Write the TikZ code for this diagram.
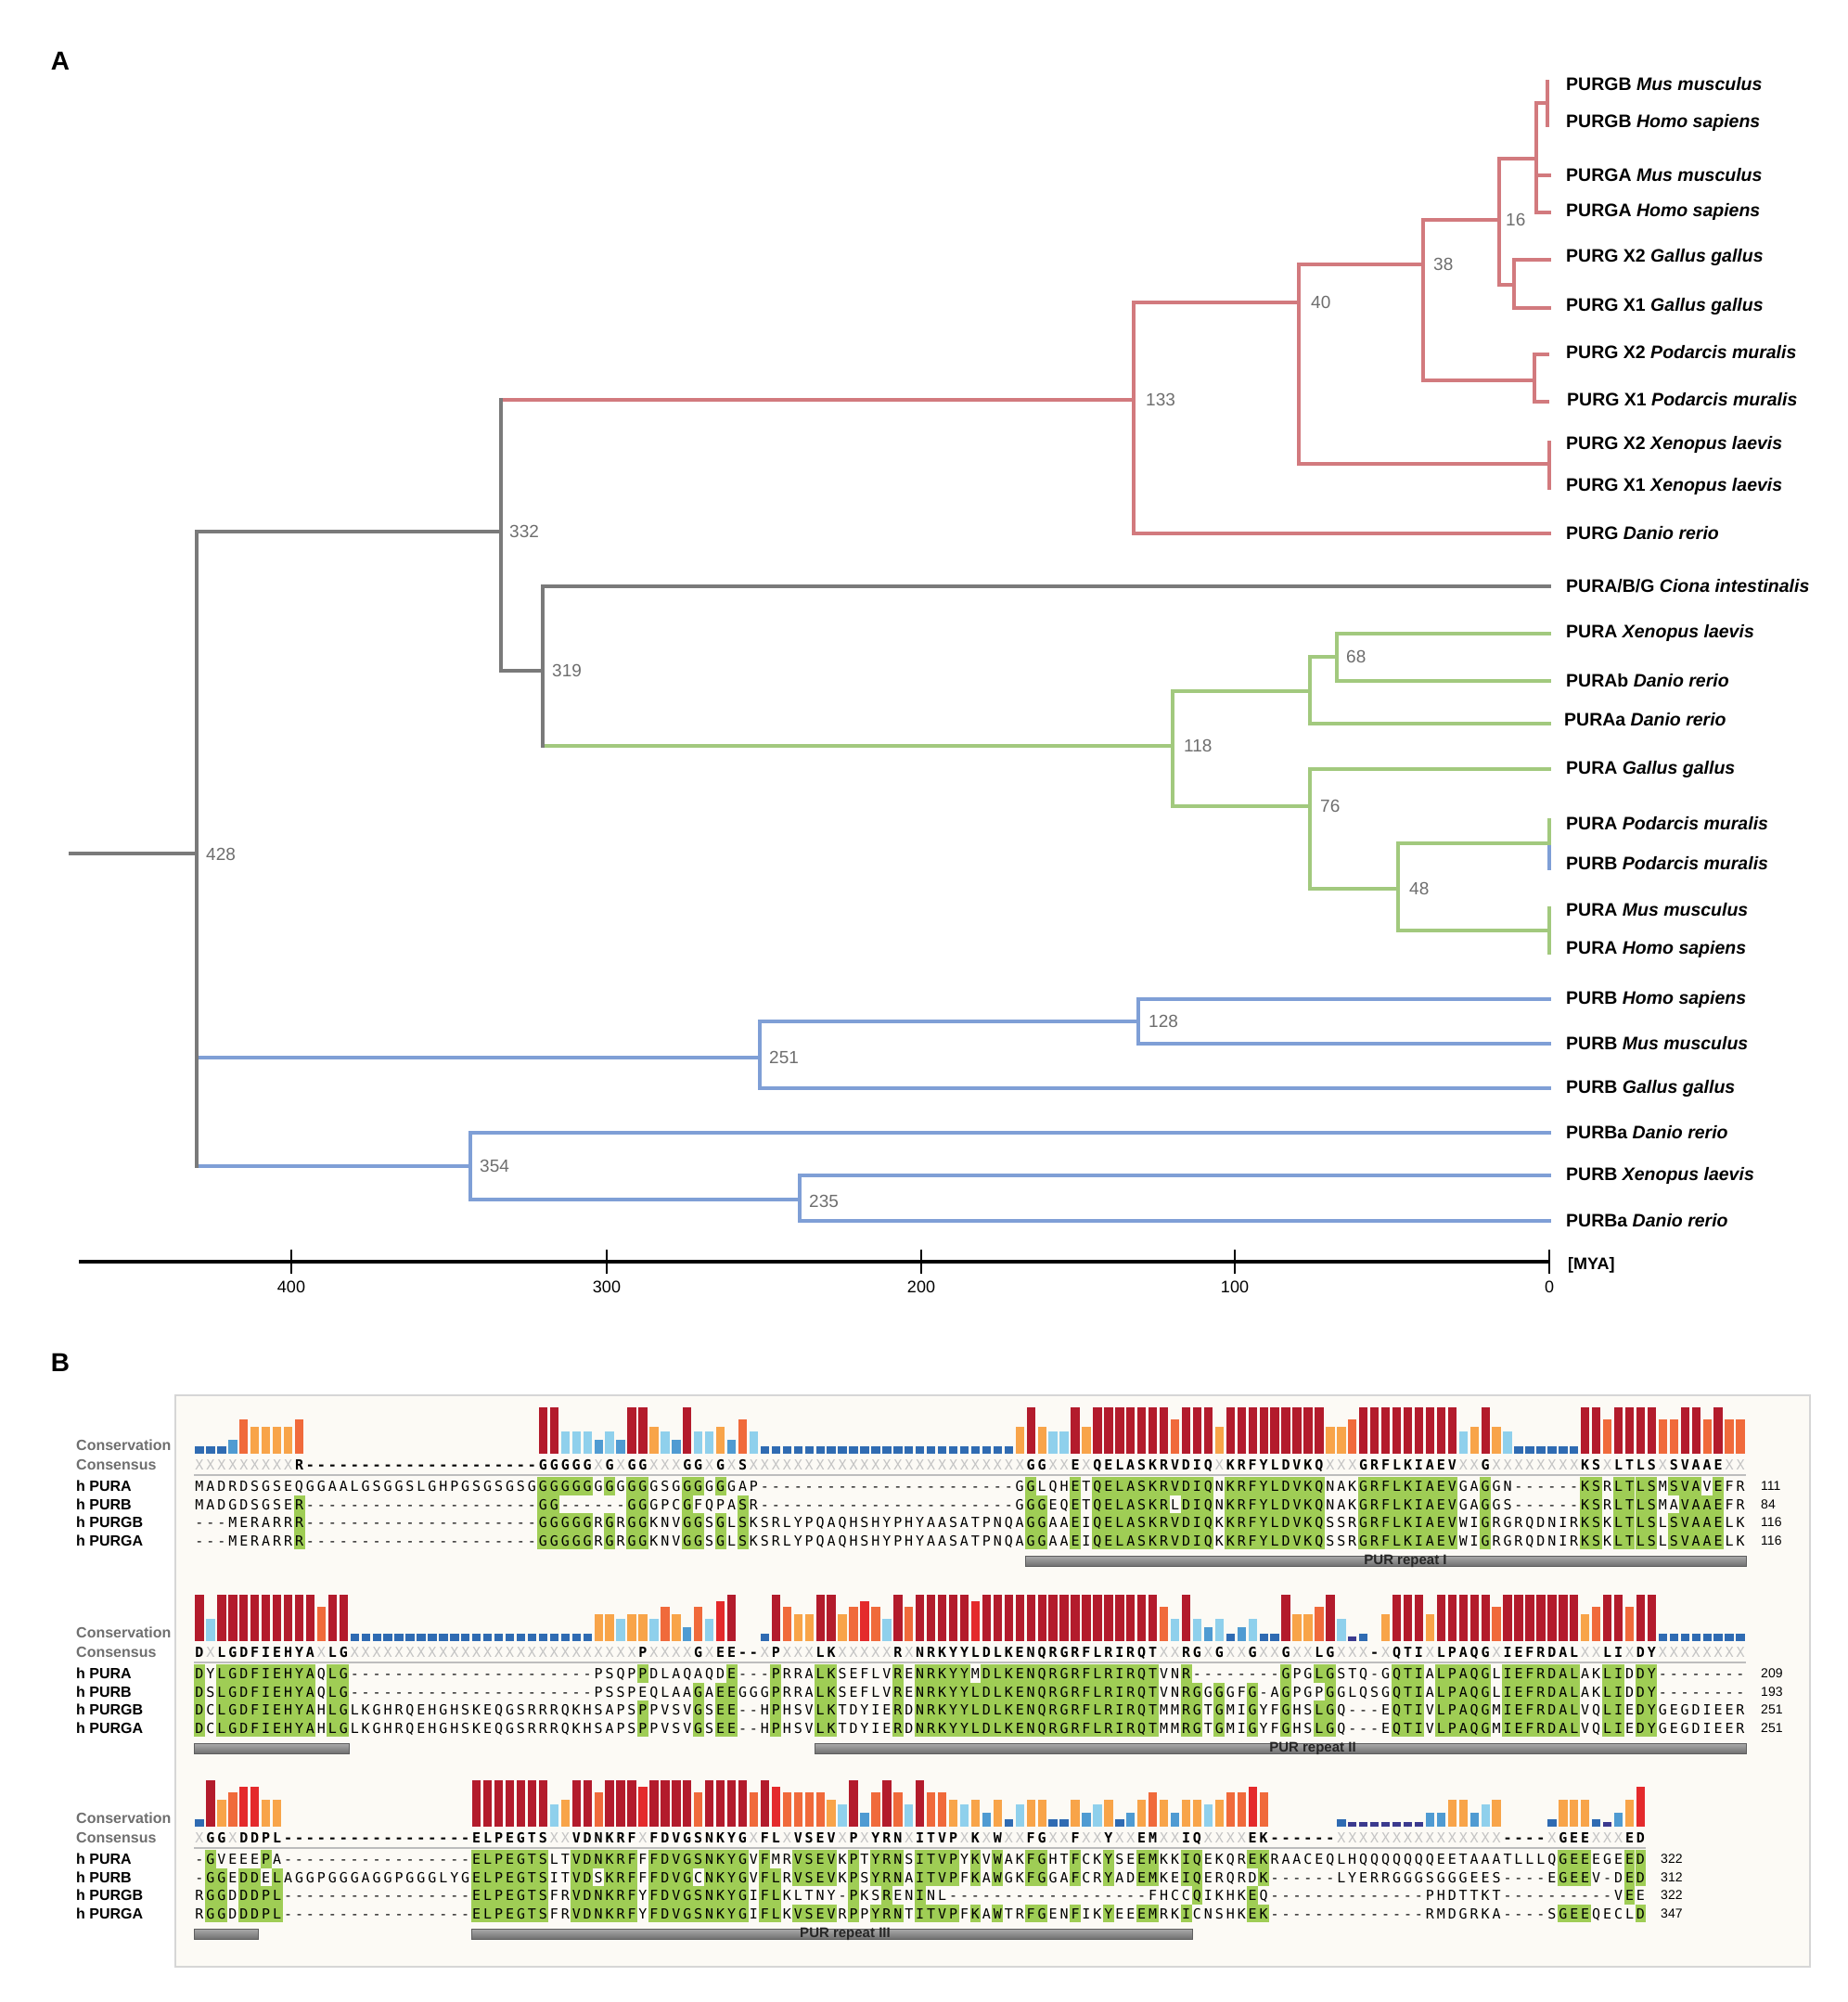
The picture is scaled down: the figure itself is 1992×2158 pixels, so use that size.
\documentclass[tikz,border=0pt]{standalone}
\usepackage{fontspec}
\setmainfont{Liberation Sans}
\setsansfont{Liberation Sans}
\newfontfamily\seqfam{DejaVu Sans Mono}
\usetikzlibrary{calc}

\definecolor{cPink}{HTML}{D27A7E}
\definecolor{cGreen}{HTML}{A2C97E}
\definecolor{cBlue}{HTML}{7F9FD6}
\definecolor{cGray}{HTML}{7A7A7A}
\definecolor{numgray}{HTML}{6E6E6E}
\definecolor{seqgreen}{HTML}{9FCD55}
\definecolor{consx}{HTML}{C4C4C4}
\definecolor{panelbg}{HTML}{FCFAF5}
\definecolor{panelborder}{HTML}{D6D6D6}
\definecolor{labgray}{HTML}{6F6F6F}
\definecolor{sepgray}{HTML}{BDBDBD}
\definecolor{barA}{HTML}{B31B2C}
\definecolor{barB}{HTML}{E42A2C}
\definecolor{barC}{HTML}{F06A3B}
\definecolor{barD}{HTML}{F8A449}
\definecolor{barE}{HTML}{8FD0EC}
\definecolor{barF}{HTML}{4F9BD2}
\definecolor{barG}{HTML}{2F6BB2}
\definecolor{barH}{HTML}{3B3A8E}
\definecolor{repTop}{HTML}{ABABAB}
\definecolor{repBot}{HTML}{707070}
\definecolor{repEdge}{HTML}{5E5E5E}

\ExplSyntaxOn
\int_new:N \l_pur_col_int
\str_new:N \l_pur_cons_str
\str_new:N \l_pur_seq_str
\str_new:N \l_pur_ch_str
\str_new:N \l_pur_cc_str
\tl_new:N \l_pur_x_tl
\dim_new:N \l_pur_cell_dim
\dim_set:Nn \l_pur_cell_dim {11.95pt}
\cs_new:Npn \Rdash #1 { \prg_replicate:nn {#1} {-} }
\cs_new:Npn \Rx #1 { \prg_replicate:nn {#1} {X} }
\cs_new:Npn \Rdot #1 { \prg_replicate:nn {#1} {.} }
\cs_new_protected:Npn \pur_cell:n #1 { \makebox[\l_pur_cell_dim][c]{#1} }
\cs_new_protected:Npn \pur_gcell:n #1
  {
    \rlap{\color{seqgreen}\rule[-4.25pt]{\l_pur_cell_dim}{19.5pt}}
    \makebox[\l_pur_cell_dim][c]{#1}
  }
\cs_new_protected:Npn \PurSeq #1#2
  {
    \str_set:Nx \l_pur_cons_str {#1}
    \str_set:Nx \l_pur_seq_str {#2}
    \int_zero:N \l_pur_col_int
    \str_map_inline:Nn \l_pur_seq_str
      {
        \int_incr:N \l_pur_col_int
        \str_set:Nn \l_pur_ch_str {##1}
        \str_set:Nx \l_pur_cc_str { \str_item:Nn \l_pur_cons_str { \l_pur_col_int } }
        \str_if_eq:VVTF \l_pur_ch_str \l_pur_cc_str
          {
            \str_if_eq:VnTF \l_pur_ch_str {-}
              { \pur_cell:n {##1} }
              { \pur_gcell:n {##1} }
          }
          { \pur_cell:n {##1} }
      }
  }
\cs_new_protected:Npn \PurCons #1
  {
    \str_set:Nx \l_pur_cons_str {#1}
    \str_map_inline:Nn \l_pur_cons_str
      {
        \str_if_eq:nnTF {##1} {X}
          { \pur_cell:n { \mdseries \color{consx} X } }
          { \pur_cell:n {##1} }
      }
  }
\cs_new_protected:Npn \pur_bar:nnn #1#2#3
  {
    \tl_set:Nx \l_pur_x_tl { \fp_eval:n { 209 + \l_pur_col_int * 11.95 + 1.3 } }
    \fill[#1]~(\l_pur_x_tl,#3)~rectangle~++(9.35,-#2);
  }
\cs_new_protected:Npn \PurBars #1#2
  {
    \str_set:Nx \l_pur_seq_str {#2}
    \int_zero:N \l_pur_col_int
    \str_map_inline:Nn \l_pur_seq_str
      {
        \str_case:nnF {##1}
          {
            {a} { \pur_bar:nnn {barA} {50} {#1} }
            {b} { \pur_bar:nnn {barB} {43} {#1} }
            {c} { \pur_bar:nnn {barC} {37} {#1} }
            {d} { \pur_bar:nnn {barD} {29} {#1} }
            {e} { \pur_bar:nnn {barE} {24} {#1} }
            {f} { \pur_bar:nnn {barF} {15} {#1} }
            {g} { \pur_bar:nnn {barG} {8} {#1} }
            {h} { \pur_bar:nnn {barH} {5} {#1} }
          }
          { }
        \int_incr:N \l_pur_col_int
      }
  }
\ExplSyntaxOff

% ---------- block 1 ----------
\newcommand\cnsI{XXXXXXXXXR\Rdash{21}GGGGGXGXGGXXXGGXGXS\Rx{25}GGXXEXQELASKRVDIQXKRFYLDVKQXXXGRFLKIAEVXXGXXXXXXXXKSXLTLSXSVAAEXX}
\newcommand\sqIa{MADRDSGSEQGGAALGSGGSLGHPGSGSGSGGGGGGGGGGGGSGGGGGGAP\Rdash{23}GGLQHETQELASKRVDIQNKRFYLDVKQNAKGRFLKIAEVGAGGN------KSRLTLSMSVAVEFR}
\newcommand\sqIb{MADGDSGSER\Rdash{21}GG------GGGPCGFQPASR\Rdash{23}GGGEQETQELASKRLDIQNKRFYLDVKQNAKGRFLKIAEVGAGGS------KSRLTLSMAVAAEFR}
\newcommand\sqIc{---MERARRR\Rdash{21}GGGGGRGRGGKNVGGSGLSKSRLYPQAQHSHYPHYAASATPNQAGGAAEIQELASKRVDIQKKRFYLDVKQSSRGRFLKIAEVWIGRGRQDNIRKSKLTLSLSVAAELK}
\newcommand\brI{gggfcddddc\Rdot{21}aaeeefefaadefaeedfceggggggggggggggggggggggg%
dadeeadaaaaaaacaaadaaaaaaaaaddcaaaaaaaaaedadeggggggaacaaaaccaacacc}
% ---------- block 2 ----------
\newcommand\cnsII{DXLGDFIEHYAXLG\Rx{26}PXXXXGXEE--XPXXXLKXXXXXRXNRKYYLDLKENQRGRFLRIRQTXXRGXGXXGXXGXXLGXXX-XQTIXLPAQGXIEFRDALXXLIXDYXXXXXXXX}
\newcommand\sqIIa{DYLGDFIEHYAQLG\Rdash{22}PSQPPDLAQAQDE---PRRALKSEFLVRENRKYYMDLKENQRGRFLRIRQTVNR--------GPGLGSTQ-GQTIALPAQGLIEFRDALAKLIDDY--------}
\newcommand\sqIIb{DSLGDFIEHYAQLG\Rdash{22}PSSPEQLAAGAEEGGGPRRALKSEFLVRENRKYYLDLKENQRGRFLRIRQTVNRGGGGFG-AGPGPGGLQSGQTIALPAQGLIEFRDALAKLIDDY--------}
\newcommand\sqIIc{DCLGDFIEHYAHLGLKGHRQEHGHSKEQGSRRRQKHSAPSPPVSVGSEE--HPHSVLKTDYIERDNRKYYLDLKENQRGRFLRIRQTMMRGTGMIGYFGHSLGQ---EQTIVLPAQGMIEFRDALVQLIEDYGEGDIEER}
\newcommand\brII{aeaaaaaaaaacaaggggggggggggggggggggggddeddecdfceba..gacddaadcbceacaaaaabaaaaaaaaaaaaaaaaceaefegfeggaddcaehg.daaadaaaaacaaaaaaadcaacaagggggggg}
% ---------- block 3 ----------
\newcommand\cnsIII{XGGXDDPL\Rdash{17}ELPEGTSXXVDNKRFXFDVGSNKYGXFLXVSEVXPXYRNXITVPXKXWXXFGXXFXXYXXEMXXIQXXXXEK------\Rx{15}----XGEEXXXED}
\newcommand\sqIIIa{-GVEEEPA\Rdash{17}ELPEGTSLTVDNKRFFFDVGSNKYGVFMRVSEVKPTYRNSITVPYKVWAKFGHTFCKYSEEMKKIQEKQREKRAACEQLHQQQQQQQEETAAATLLLQGEEEGEED}
\newcommand\sqIIIb{-GGEDDELAGGPGGGAGGPGGGLYGELPEGTSITVDSKRFFFDVGCNKYGVFLRVSEVKPSYRNAITVPFKAWGKFGGAFCRYADEMKEIQERQRDK------LYERRGGGSGGGEES----EGEEV-DED}
\newcommand\sqIIIc{RGGDDDPL\Rdash{17}ELPEGTSFRVDNKRFYFDVGSNKYGIFLKLTNY-PKSRENINL\Rdash{18}FHCCQIKHKEQ\Rdash{14}PHDTTKT\Rdash{10}VEE}
\newcommand\sqIIId{RGGDDDPL\Rdash{17}ELPEGTSFRVDNKRFYFDVGSNKYGIFLKVSEVRPPYRNTITVPFKAWTRFGENFIKYEEEMRKICNSHKEK\Rdash{14}RMDGRKA----SGEEQECLD}
\newcommand\brIII{gadcbbdd\Rdot{17}aaaaaaaedaacaaabaaaacaaaacabccccdeafcaceaccdedfdgeddggdfedgfdcdfddedccbc......ghhhhhhhffddfed....gdddghfdb}

\begin{document}
\begin{tikzpicture}[x=1pt,y=-1pt,
  gline/.style={draw=cGray,line width=3.4pt,line cap=rect},
  pline/.style={draw=cPink,line width=3.4pt,line cap=rect},
  grline/.style={draw=cGreen,line width=3.4pt,line cap=rect},
  bline/.style={draw=cBlue,line width=3.4pt,line cap=rect},
  leaflab/.style={anchor=west,inner sep=0pt,font=\fontsize{19.5}{22}\selectfont\bfseries},
  numlab/.style={anchor=west,inner sep=0pt,text=numgray,font=\fontsize{19}{22}\selectfont},
  ticklab/.style={inner sep=0pt,font=\fontsize{18}{20}\selectfont},
  panellab/.style={inner sep=0pt,font=\fontsize{28}{30}\selectfont\bfseries},
  rowlab/.style={anchor=west,inner sep=0pt,font=\fontsize{16}{18}\selectfont\bfseries},
  graylab/.style={rowlab,text=labgray},
  seqrow/.style={anchor=base west,inner sep=0pt,outer sep=0pt,font=\seqfam\fontsize{15}{17}\selectfont\color{black}},
  consrow/.style={anchor=base west,inner sep=0pt,outer sep=0pt,font=\seqfam\fontsize{15}{17}\selectfont\bfseries},
  endnum/.style={anchor=west,inner sep=0pt,font=\fontsize{14}{16}\selectfont},
  replab/.style={inner sep=0pt,text=black!85,font=\fontsize{15}{17}\selectfont\bfseries},
  repbar/.style={top color=repTop,bottom color=repBot,draw=repEdge,line width=0.8pt}
]
\useasboundingbox (0,0) rectangle (1992,2158);
\fill[white] (0,0) rectangle (1992,2158);

% ================= PANEL A : tree =================
\node[panellab] (labA) at (65,66) {A};

\coordinate (root0) at (76,920);
\coordinate (n428) at (212,920);
\coordinate (n332) at (540,573);
\coordinate (n133) at (1222,431);
\coordinate (n40) at (1400,326);
\coordinate (n38) at (1534,285);
\coordinate (n16) at (1616,237);
\coordinate (nGA) at (1656,171);
\coordinate (pGB) at (1668,111);
\coordinate (lf1) at (1668,88);
\coordinate (lf2) at (1668,135);
\coordinate (lf3) at (1670,189);
\coordinate (lf4) at (1670,229);
\coordinate (nGal) at (1632,307);
\coordinate (lf5) at (1670,280);
\coordinate (lf6) at (1670,332);
\coordinate (pPod) at (1654,410);
\coordinate (lf7) at (1668,382);
\coordinate (lf8) at (1668,433);
\coordinate (pXen) at (1670,500);
\coordinate (lf9) at (1670,477);
\coordinate (lf10) at (1670,526);
\coordinate (lf11) at (1670,575);
\coordinate (n319) at (585,723);
\coordinate (lf12) at (1670,632);
\coordinate (n118) at (1264,804);
\coordinate (nU) at (1412,745);
\coordinate (n68) at (1441,708);
\coordinate (lf13) at (1670,683);
\coordinate (lf14) at (1670,734);
\coordinate (lf15) at (1670,780);
\coordinate (n76) at (1412,869);
\coordinate (lf16) at (1670,829);
\coordinate (n48) at (1507,958);
\coordinate (pPodA) at (1670,909);
\coordinate (lf17) at (1670,884);
\coordinate (lf18) at (1670,936);
\coordinate (pHM) at (1670,1003);
\coordinate (lf19) at (1670,979);
\coordinate (lf20) at (1670,1027);
\coordinate (n251) at (819,1140);
\coordinate (n128) at (1227,1101);
\coordinate (lf21) at (1670,1077);
\coordinate (lf22) at (1670,1125);
\coordinate (lf23) at (1670,1173);
\coordinate (n354) at (507,1257);
\coordinate (lf24) at (1670,1221);
\coordinate (n235) at (862,1293);
\coordinate (lf25) at (1670,1267);
\coordinate (lf26) at (1670,1316);

% blue PURB clade
\draw[bline] (n428 |- n251) -- (n251);
\draw[bline] (n428 |- n354) -- (n354);
\draw[bline] (n251 |- n128) -- (n251 |- lf23);
\draw[bline] (n251 |- n128) -- (n128);
\draw[bline] (n251 |- lf23) -- (lf23);
\draw[bline] (n128 |- lf21) -- (n128 |- lf22);
\draw[bline] (n128 |- lf21) -- (lf21);
\draw[bline] (n128 |- lf22) -- (lf22);
\draw[bline] (n354 |- lf24) -- (n354 |- n235);
\draw[bline] (n354 |- lf24) -- (lf24);
\draw[bline] (n354 |- n235) -- (n235);
\draw[bline] (n235 |- lf25) -- (n235 |- lf26);
\draw[bline] (n235 |- lf25) -- (lf25);
\draw[bline] (n235 |- lf26) -- (lf26);

% gray backbone
\draw[gline] (root0) -- (n428);
\draw[gline] (n428 |- n332) -- (n428 |- n354);
\draw[gline] (n428 |- n332) -- (n332);
\draw[pline] (n332 |- n133) -- (n133);
\draw[gline] (n332 |- n133) -- (n332 |- n319);
\draw[gline] (n332 |- n319) -- (n319);
\draw[grline] (n319 |- n118) -- (n118);
\draw[gline] (n319 |- lf12) -- (n319 |- n118);
\draw[gline] (n319 |- lf12) -- (lf12);

% pink PURG clade
\draw[pline] (n133 |- n40) -- (n133 |- lf11);
\draw[pline] (n133 |- n40) -- (n40);
\draw[pline] (n133 |- lf11) -- (lf11);
\draw[pline] (n40 |- n38) -- (n40 |- pXen);
\draw[pline] (n40 |- n38) -- (n38);
\draw[pline] (n40 |- pXen) -- (pXen);
\draw[pline] (lf9) -- (lf10);
\draw[pline] (n38 |- n16) -- (n38 |- pPod);
\draw[pline] (n38 |- n16) -- (n16);
\draw[pline] (n38 |- pPod) -- (pPod);
\draw[pline] (pPod |- lf7) -- (pPod |- lf8);
\draw[pline] (pPod |- lf7) -- (lf7);
\draw[pline] (pPod |- lf8) -- (lf8);
\draw[pline] (n16 |- nGA) -- (n16 |- nGal);
\draw[pline] (n16 |- nGA) -- (nGA);
\draw[pline] (n16 |- nGal) -- (nGal);
\draw[pline] (nGal |- lf5) -- (nGal |- lf6);
\draw[pline] (nGal |- lf5) -- (lf5);
\draw[pline] (nGal |- lf6) -- (lf6);
\draw[pline] (nGA |- pGB) -- (nGA |- lf4);
\draw[pline] (nGA |- pGB) -- (pGB);
\draw[pline] (nGA |- lf3) -- (lf3);
\draw[pline] (nGA |- lf4) -- (lf4);
\draw[pline] (lf1) -- (lf2);

% green PURA clade
\draw[grline] (n118 |- nU) -- (n118 |- n76);
\draw[grline] (n118 |- nU) -- (nU);
\draw[grline] (n118 |- n76) -- (n76);
\draw[grline] (nU |- n68) -- (nU |- lf15);
\draw[grline] (nU |- n68) -- (n68);
\draw[grline] (nU |- lf15) -- (lf15);
\draw[grline] (n68 |- lf13) -- (n68 |- lf14);
\draw[grline] (n68 |- lf13) -- (lf13);
\draw[grline] (n68 |- lf14) -- (lf14);
\draw[grline] (n76 |- lf16) -- (n76 |- n48);
\draw[grline] (n76 |- lf16) -- (lf16);
\draw[grline] (n76 |- n48) -- (n48);
\draw[grline] (n48 |- pPodA) -- (n48 |- pHM);
\draw[grline] (n48 |- pPodA) -- (pPodA);
\draw[grline] (n48 |- pHM) -- (pHM);
\draw[bline] (pPodA) -- (lf18);
\draw[grline] (lf17) -- (pPodA);
\draw[grline] (lf19) -- (lf20);

% node ages
\node[numlab] (k428) at (222,921) {428};
\node[numlab] (k332) at (549,573) {332};
\node[numlab] (k319) at (595,723) {319};
\node[numlab] (k133) at (1235,431) {133};
\node[numlab] (k40) at (1413,326) {40};
\node[numlab] (k38) at (1545,285) {38};
\node[numlab] (k16) at (1623,237) {16};
\node[numlab] (k118) at (1276,804) {118};
\node[numlab] (k68) at (1451,708) {68};
\node[numlab] (k76) at (1423,869) {76};
\node[numlab] (k48) at (1519,958) {48};
\node[numlab] (k251) at (829,1140) {251};
\node[numlab] (k128) at (1238,1101) {128};
\node[numlab] (k354) at (517,1257) {354};
\node[numlab] (k235) at (872,1295) {235};

% leaf labels
\node[leaflab] (t1) at (1688,91) {PURGB \textit{Mus musculus}};
\node[leaflab] (t2) at (1688,132) {PURGB \textit{Homo sapiens}};
\node[leaflab] (t3) at (1688,189) {PURGA \textit{Mus musculus}};
\node[leaflab] (t4) at (1688,228) {PURGA \textit{Homo sapiens}};
\node[leaflab] (t5) at (1688,277) {PURG X2 \textit{Gallus gallus}};
\node[leaflab] (t6) at (1688,330) {PURG X1 \textit{Gallus gallus}};
\node[leaflab] (t7) at (1688,380) {PURG X2 \textit{Podarcis muralis}};
\node[leaflab] (t8) at (1689,431) {PURG X1 \textit{Podarcis muralis}};
\node[leaflab] (t9) at (1688,479) {PURG X2 \textit{Xenopus laevis}};
\node[leaflab] (t10) at (1688,524) {PURG X1 \textit{Xenopus laevis}};
\node[leaflab] (t11) at (1688,575) {PURG \textit{Danio rerio}};
\node[leaflab] (t12) at (1688,632) {PURA/B/G \textit{Ciona intestinalis}};
\node[leaflab] (t13) at (1688,682) {PURA \textit{Xenopus laevis}};
\node[leaflab] (t14) at (1688,734) {PURAb \textit{Danio rerio}};
\node[leaflab] (t15) at (1686,776) {PURAa \textit{Danio rerio}};
\node[leaflab] (t16) at (1688,829) {PURA \textit{Gallus gallus}};
\node[leaflab] (t17) at (1688,888) {PURA \textit{Podarcis muralis}};
\node[leaflab] (t18) at (1688,931) {PURB \textit{Podarcis muralis}};
\node[leaflab] (t19) at (1688,981) {PURA \textit{Mus musculus}};
\node[leaflab] (t20) at (1688,1023) {PURA \textit{Homo sapiens}};
\node[leaflab] (t21) at (1688,1077) {PURB \textit{Homo sapiens}};
\node[leaflab] (t22) at (1688,1125) {PURB \textit{Mus musculus}};
\node[leaflab] (t23) at (1688,1173) {PURB \textit{Gallus gallus}};
\node[leaflab] (t24) at (1688,1221) {PURBa \textit{Danio rerio}};
\node[leaflab] (t25) at (1688,1267) {PURB \textit{Xenopus laevis}};
\node[leaflab] (t26) at (1688,1316) {PURBa \textit{Danio rerio}};

% time axis
\coordinate (axL) at (85,1360);
\coordinate (axR) at (1670,1360);
\draw[line width=3.4pt] (axL) -- (axR);
\foreach \xx/\lab in {314/400,654/300,993/200,1331/100,1670/0} {
  \coordinate (tk\lab) at (\xx,1360);
  \draw[line width=2.6pt] (\xx,1347) -- (\xx,1373);
  \node[ticklab] (tl\lab) at (\xx,1387) {\lab};
}
\node[ticklab,anchor=west,font=\fontsize{18}{20}\selectfont\bfseries] (mya) at (1690,1364) {[MYA]};

% ================= PANEL B : alignment =================
\node[panellab] (labB) at (65,1469) {B};
\draw[fill=panelbg,draw=panelborder,line width=1.5pt] (189,1504) rectangle (1951,2120);

% ---- block 1 (y0 = 1602)
\PurBars{1567}{\brI}
\node[graylab] (c1) at (82,1558) {Conservation};
\node[graylab] (k1) at (82,1579) {Consensus};
\node[consrow] (cs1) at (209,1584.5) {\PurCons{\cnsI}};
\draw[sepgray,line width=2.4pt] (209,1590) -- (1882,1590);
\node[rowlab] (h1a) at (82,1602) {h PURA};
\node[rowlab] (h1b) at (82,1621.5) {h PURB};
\node[rowlab] (h1c) at (82,1641) {h PURGB};
\node[rowlab] (h1d) at (82,1660.5) {h PURGA};
\node[seqrow] (s1a) at (209,1607.5) {\PurSeq{\cnsI}{\sqIa}};
\node[seqrow] (s1b) at (209,1627) {\PurSeq{\cnsI}{\sqIb}};
\node[seqrow] (s1c) at (209,1646.5) {\PurSeq{\cnsI}{\sqIc}};
\node[seqrow] (s1d) at (209,1666) {\PurSeq{\cnsI}{\sqIc}};
\node[endnum] (e1a) at (1898,1602) {111};
\node[endnum] (e1b) at (1898,1621.5) {84};
\node[endnum] (e1c) at (1898,1641) {116};
\node[endnum] (e1d) at (1898,1660.5) {116};
\shade[repbar] (1105,1677) rectangle (1882,1688);
\node[replab] (r1) at (1515,1682.5) {PUR repeat I};

% ---- block 2 (y0 = 1804)
\PurBars{1769}{\brII}
\node[graylab] (c2) at (82,1760) {Conservation};
\node[graylab] (k2) at (82,1781) {Consensus};
\node[consrow] (cs2) at (209,1786.5) {\PurCons{\cnsII}};
\draw[sepgray,line width=2.4pt] (209,1792) -- (1882,1792);
\node[rowlab] (h2a) at (82,1804) {h PURA};
\node[rowlab] (h2b) at (82,1823.5) {h PURB};
\node[rowlab] (h2c) at (82,1843) {h PURGB};
\node[rowlab] (h2d) at (82,1862.5) {h PURGA};
\node[seqrow] (s2a) at (209,1809.5) {\PurSeq{\cnsII}{\sqIIa}};
\node[seqrow] (s2b) at (209,1829) {\PurSeq{\cnsII}{\sqIIb}};
\node[seqrow] (s2c) at (209,1848.5) {\PurSeq{\cnsII}{\sqIIc}};
\node[seqrow] (s2d) at (209,1868) {\PurSeq{\cnsII}{\sqIIc}};
\node[endnum] (e2a) at (1898,1804) {209};
\node[endnum] (e2b) at (1898,1823.5) {193};
\node[endnum] (e2c) at (1898,1843) {251};
\node[endnum] (e2d) at (1898,1862.5) {251};
\shade[repbar] (209,1879) rectangle (376,1890);
\shade[repbar] (878,1879) rectangle (1882,1890);
\node[replab] (r2) at (1415,1884.5) {PUR repeat II};

% ---- block 3 (y0 = 2004)
\PurBars{1969}{\brIII}
\node[graylab] (c3) at (82,1960) {Conservation};
\node[graylab] (k3) at (82,1981) {Consensus};
\node[consrow] (cs3) at (209,1986.5) {\PurCons{\cnsIII}};
\draw[sepgray,line width=2.4pt] (209,1992) -- (1774,1992);
\node[rowlab] (h3a) at (82,2004) {h PURA};
\node[rowlab] (h3b) at (82,2023.5) {h PURB};
\node[rowlab] (h3c) at (82,2043) {h PURGB};
\node[rowlab] (h3d) at (82,2062.5) {h PURGA};
\node[seqrow] (s3a) at (209,2009.5) {\PurSeq{\cnsIII}{\sqIIIa}};
\node[seqrow] (s3b) at (209,2029) {\PurSeq{\cnsIII}{\sqIIIb}};
\node[seqrow] (s3c) at (209,2048.5) {\PurSeq{\cnsIII}{\sqIIIc}};
\node[seqrow] (s3d) at (209,2068) {\PurSeq{\cnsIII}{\sqIIId}};
\node[endnum] (e3a) at (1790,2004) {322};
\node[endnum] (e3b) at (1790,2023.5) {312};
\node[endnum] (e3c) at (1790,2043) {322};
\node[endnum] (e3d) at (1790,2062.5) {347};
\shade[repbar] (209,2079) rectangle (278,2090);
\shade[repbar] (508,2079) rectangle (1285,2090);
\node[replab] (r3) at (911,2084.5) {PUR repeat III};
\end{tikzpicture}
\end{document}
